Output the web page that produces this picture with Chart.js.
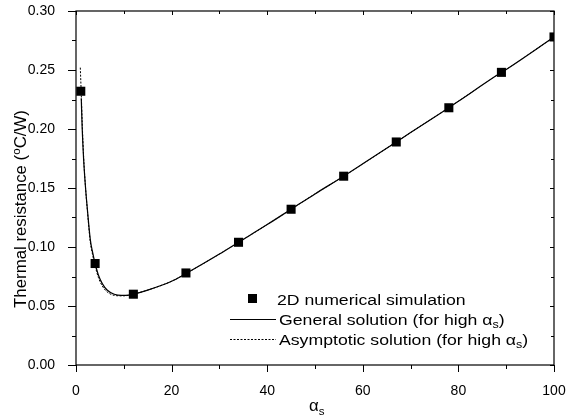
<!DOCTYPE html>
<html>
<head>
<meta charset="utf-8">
<title>Thermal resistance vs alpha_s</title>
<script src="https://cdn.jsdelivr.net/npm/chart.js@4/dist/chart.umd.min.js"></script>
<style>
    html, body { margin: 0; padding: 0; background: #fff; }
    #wrap { width: 566px; height: 418px; }
</style>
</head>
<body>
<div id="wrap"><canvas id="resistance-chart" width="566" height="418"></canvas></div>
<script>
'use strict';

// 2D numerical simulation (squares)
var simX = [1, 4, 12, 23, 34, 45, 56, 67, 78, 89, 100];
var simY = [0.232, 0.086, 0.060, 0.078, 0.104, 0.132, 0.160, 0.189, 0.218, 0.248, 0.278];

// General solution (solid line)
var genX = [1.1, 1.3, 1.6, 2, 2.4, 3, 3.5, 4, 4.7, 5.5, 6.5, 8, 9.5, 11, 12, 15, 20, 23, 30, 34, 40, 45, 50, 56, 60, 67, 70, 78, 80, 89, 90, 100];
var genY = [0.226, 0.200, 0.174, 0.150, 0.131, 0.106, 0.095, 0.086, 0.076, 0.069, 0.0636, 0.0600, 0.0590, 0.0592, 0.0600, 0.0635, 0.0710, 0.0775, 0.0940, 0.1040, 0.1190, 0.1320, 0.1450, 0.1600, 0.1705, 0.1890, 0.1970, 0.2180, 0.2235, 0.2480, 0.2505, 0.2780];

// Asymptotic solution (dashed line)
var asyX = [0.9, 1.1, 1.3, 1.6, 2, 2.4, 3, 3.5, 4, 4.7, 5.5, 6.5, 8, 9.5, 11, 12, 15, 20, 23, 30, 34, 40, 45, 50, 56, 60, 67, 70, 78, 80, 89, 90, 100];
var asyY = [0.252, 0.230, 0.205, 0.176, 0.150, 0.130, 0.104, 0.093, 0.084, 0.074, 0.067, 0.062, 0.0590, 0.0586, 0.0590, 0.0600, 0.0635, 0.0710, 0.0775, 0.0940, 0.1040, 0.1190, 0.1320, 0.1450, 0.1600, 0.1705, 0.1890, 0.1970, 0.2180, 0.2235, 0.2480, 0.2505, 0.2780];

// Axis ticks
var xMajor = [0, 20, 40, 60, 80, 100];
var xMinor = [10, 30, 50, 70, 90];
var yMajor = [0, 0.05, 0.10, 0.15, 0.20, 0.25, 0.30];
var yMinor = [0.025, 0.075, 0.125, 0.175, 0.225, 0.275];

var FONT = '"Liberation Sans", Arial, Helvetica, sans-serif';
var STRETCH = 1.14;  // legend text in the original is drawn a bit wide

function toPoints(xs, ys) {
    return xs.map(function(x, i) { return { x: x, y: ys[i] }; });
}

// Draws text with a subscript part (horizontally stretched), returns end x
function drawSub(ctx, base, sub, after, x, y, size, stretch) {
    ctx.save();
    ctx.translate(x, y);
    ctx.scale(stretch, 1);
    var cx = 0;
    ctx.font = size + 'px ' + FONT;
    ctx.fillText(base, cx, 0);
    cx += ctx.measureText(base).width;
    if (sub) {
        ctx.font = Math.round(size * 0.7) + 'px ' + FONT;
        ctx.fillText(sub, cx, size * 0.22);
        cx += ctx.measureText(sub).width;
    }
    if (after) {
        ctx.font = size + 'px ' + FONT;
        ctx.fillText(after, cx, 0);
        cx += ctx.measureText(after).width;
    }
    ctx.restore();
    return x + cx * stretch;
}

// Frame, ticks, axis titles and legend
var framePlugin = {
    id: 'frame',
    afterDraw: function(chart) {
        var ctx = chart.ctx;
        var a = chart.chartArea;
        var xs = chart.scales.x;
        var ys = chart.scales.y;

        ctx.save();
        ctx.strokeStyle = '#000';
        ctx.lineWidth = 1.2;
        ctx.strokeRect(a.left, a.top, a.right - a.left, a.bottom - a.top);

        ctx.lineWidth = 1;
        ctx.beginPath();
        xMajor.forEach(function(v) {
            var px = Math.round(xs.getPixelForValue(v)) + 0.5;
            ctx.moveTo(px, a.bottom); ctx.lineTo(px, a.bottom + 7);
            ctx.moveTo(px, a.top); ctx.lineTo(px, a.top + 4);
        });
        xMinor.forEach(function(v) {
            var px = Math.round(xs.getPixelForValue(v)) + 0.5;
            ctx.moveTo(px, a.bottom); ctx.lineTo(px, a.bottom + 4);
            ctx.moveTo(px, a.top); ctx.lineTo(px, a.top + 3);
        });
        yMajor.forEach(function(v) {
            var py = Math.round(ys.getPixelForValue(v)) + 0.5;
            ctx.moveTo(a.left - 8, py); ctx.lineTo(a.left, py);
            ctx.moveTo(a.right, py); ctx.lineTo(a.right - 4, py);
        });
        yMinor.forEach(function(v) {
            var py = Math.round(ys.getPixelForValue(v)) + 0.5;
            ctx.moveTo(a.left - 4, py); ctx.lineTo(a.left, py);
            ctx.moveTo(a.right, py); ctx.lineTo(a.right - 3, py);
        });
        ctx.stroke();

        ctx.fillStyle = '#000';
        ctx.textBaseline = 'alphabetic';
        ctx.textAlign = 'left';

        // x title
        drawSub(ctx, 'α', 's', '', 309, 411, 16, 1.05);

        // y title with superscript o
        ctx.save();
        ctx.translate(26, 209);
        ctx.rotate(-Math.PI / 2);
        ctx.scale(1.05, 1);
        var t1 = 'Thermal resistance (';
        var t2 = 'C/W)';
        ctx.font = '16px ' + FONT;
        var w1 = ctx.measureText(t1).width;
        ctx.font = '11px ' + FONT;
        var wo = ctx.measureText('o').width;
        ctx.font = '16px ' + FONT;
        var w2 = ctx.measureText(t2).width;
        var sx = -(w1 + wo + w2) / 2;
        ctx.fillText(t1, sx, 0);
        ctx.font = '11px ' + FONT;
        ctx.fillText('o', sx + w1, -6);
        ctx.font = '16px ' + FONT;
        ctx.fillText(t2, sx + w1 + wo, 0);
        ctx.restore();

        // legend
        ctx.fillRect(248, 294, 9, 9);
        drawSub(ctx, '2D numerical simulation', '', '', 277, 305, 15.5, STRETCH);

        ctx.lineWidth = 1.2;
        ctx.setLineDash([]);
        ctx.beginPath();
        ctx.moveTo(230, 319.5); ctx.lineTo(276, 319.5);
        ctx.stroke();
        drawSub(ctx, 'General solution (for high α', 's', ')', 279, 325, 15.5, STRETCH);

        ctx.lineWidth = 1;
        ctx.setLineDash([2, 1.5]);
        ctx.beginPath();
        ctx.moveTo(230, 339.5); ctx.lineTo(276, 339.5);
        ctx.stroke();
        ctx.setLineDash([]);
        drawSub(ctx, 'Asymptotic solution (for high α', 's', ')', 279, 345, 15.5, STRETCH);

        ctx.restore();
    }
};

var ctx = document.getElementById('resistance-chart').getContext('2d');

new Chart(ctx, {
    type: 'scatter',
    data: {
        datasets: [
            {
                label: 'General solution (for high αs)',
                data: toPoints(genX, genY),
                showLine: true,
                borderColor: '#000',
                borderWidth: 1.2,
                pointRadius: 0,
                cubicInterpolationMode: 'monotone',
                order: 2
            },
            {
                label: 'Asymptotic solution (for high αs)',
                data: toPoints(asyX, asyY),
                showLine: true,
                borderColor: '#000',
                borderWidth: 1,
                borderDash: [2, 1.5],
                pointRadius: 0,
                cubicInterpolationMode: 'monotone',
                order: 3
            },
            {
                label: '2D numerical simulation',
                data: toPoints(simX, simY),
                showLine: false,
                pointStyle: 'rect',
                pointRadius: 6.4,
                pointBorderWidth: 0,
                backgroundColor: '#000',
                borderColor: '#000',
                order: 1
            }
        ]
    },
    options: {
        responsive: false,
        animation: false,
        devicePixelRatio: 1,
        layout: {
            padding: { top: 11, right: 12, left: 0, bottom: 0 }
        },
        plugins: {
            legend: { display: false },
            tooltip: { enabled: false }
        },
        scales: {
            x: {
                type: 'linear',
                min: 0,
                max: 100,
                grid: { display: false },
                border: { display: false },
                ticks: {
                    stepSize: 20,
                    padding: 10,
                    color: '#000',
                    font: { family: FONT, size: 14 }
                },
                afterFit: function(scale) {
                    scale.height = 53;
                    scale.paddingLeft = 0;
                    scale.paddingRight = 0;
                }
            },
            y: {
                min: 0,
                max: 0.30,
                grid: { display: false },
                border: { display: false },
                ticks: {
                    stepSize: 0.05,
                    padding: 13,
                    color: '#000',
                    font: { family: FONT, size: 14 },
                    callback: function(v) { return v.toFixed(2); }
                },
                afterFit: function(scale) {
                    scale.width = 76;
                    scale.paddingTop = 0;
                    scale.paddingBottom = 0;
                }
            }
        }
    },
    plugins: [framePlugin]
});
</script>
</body>
</html>
